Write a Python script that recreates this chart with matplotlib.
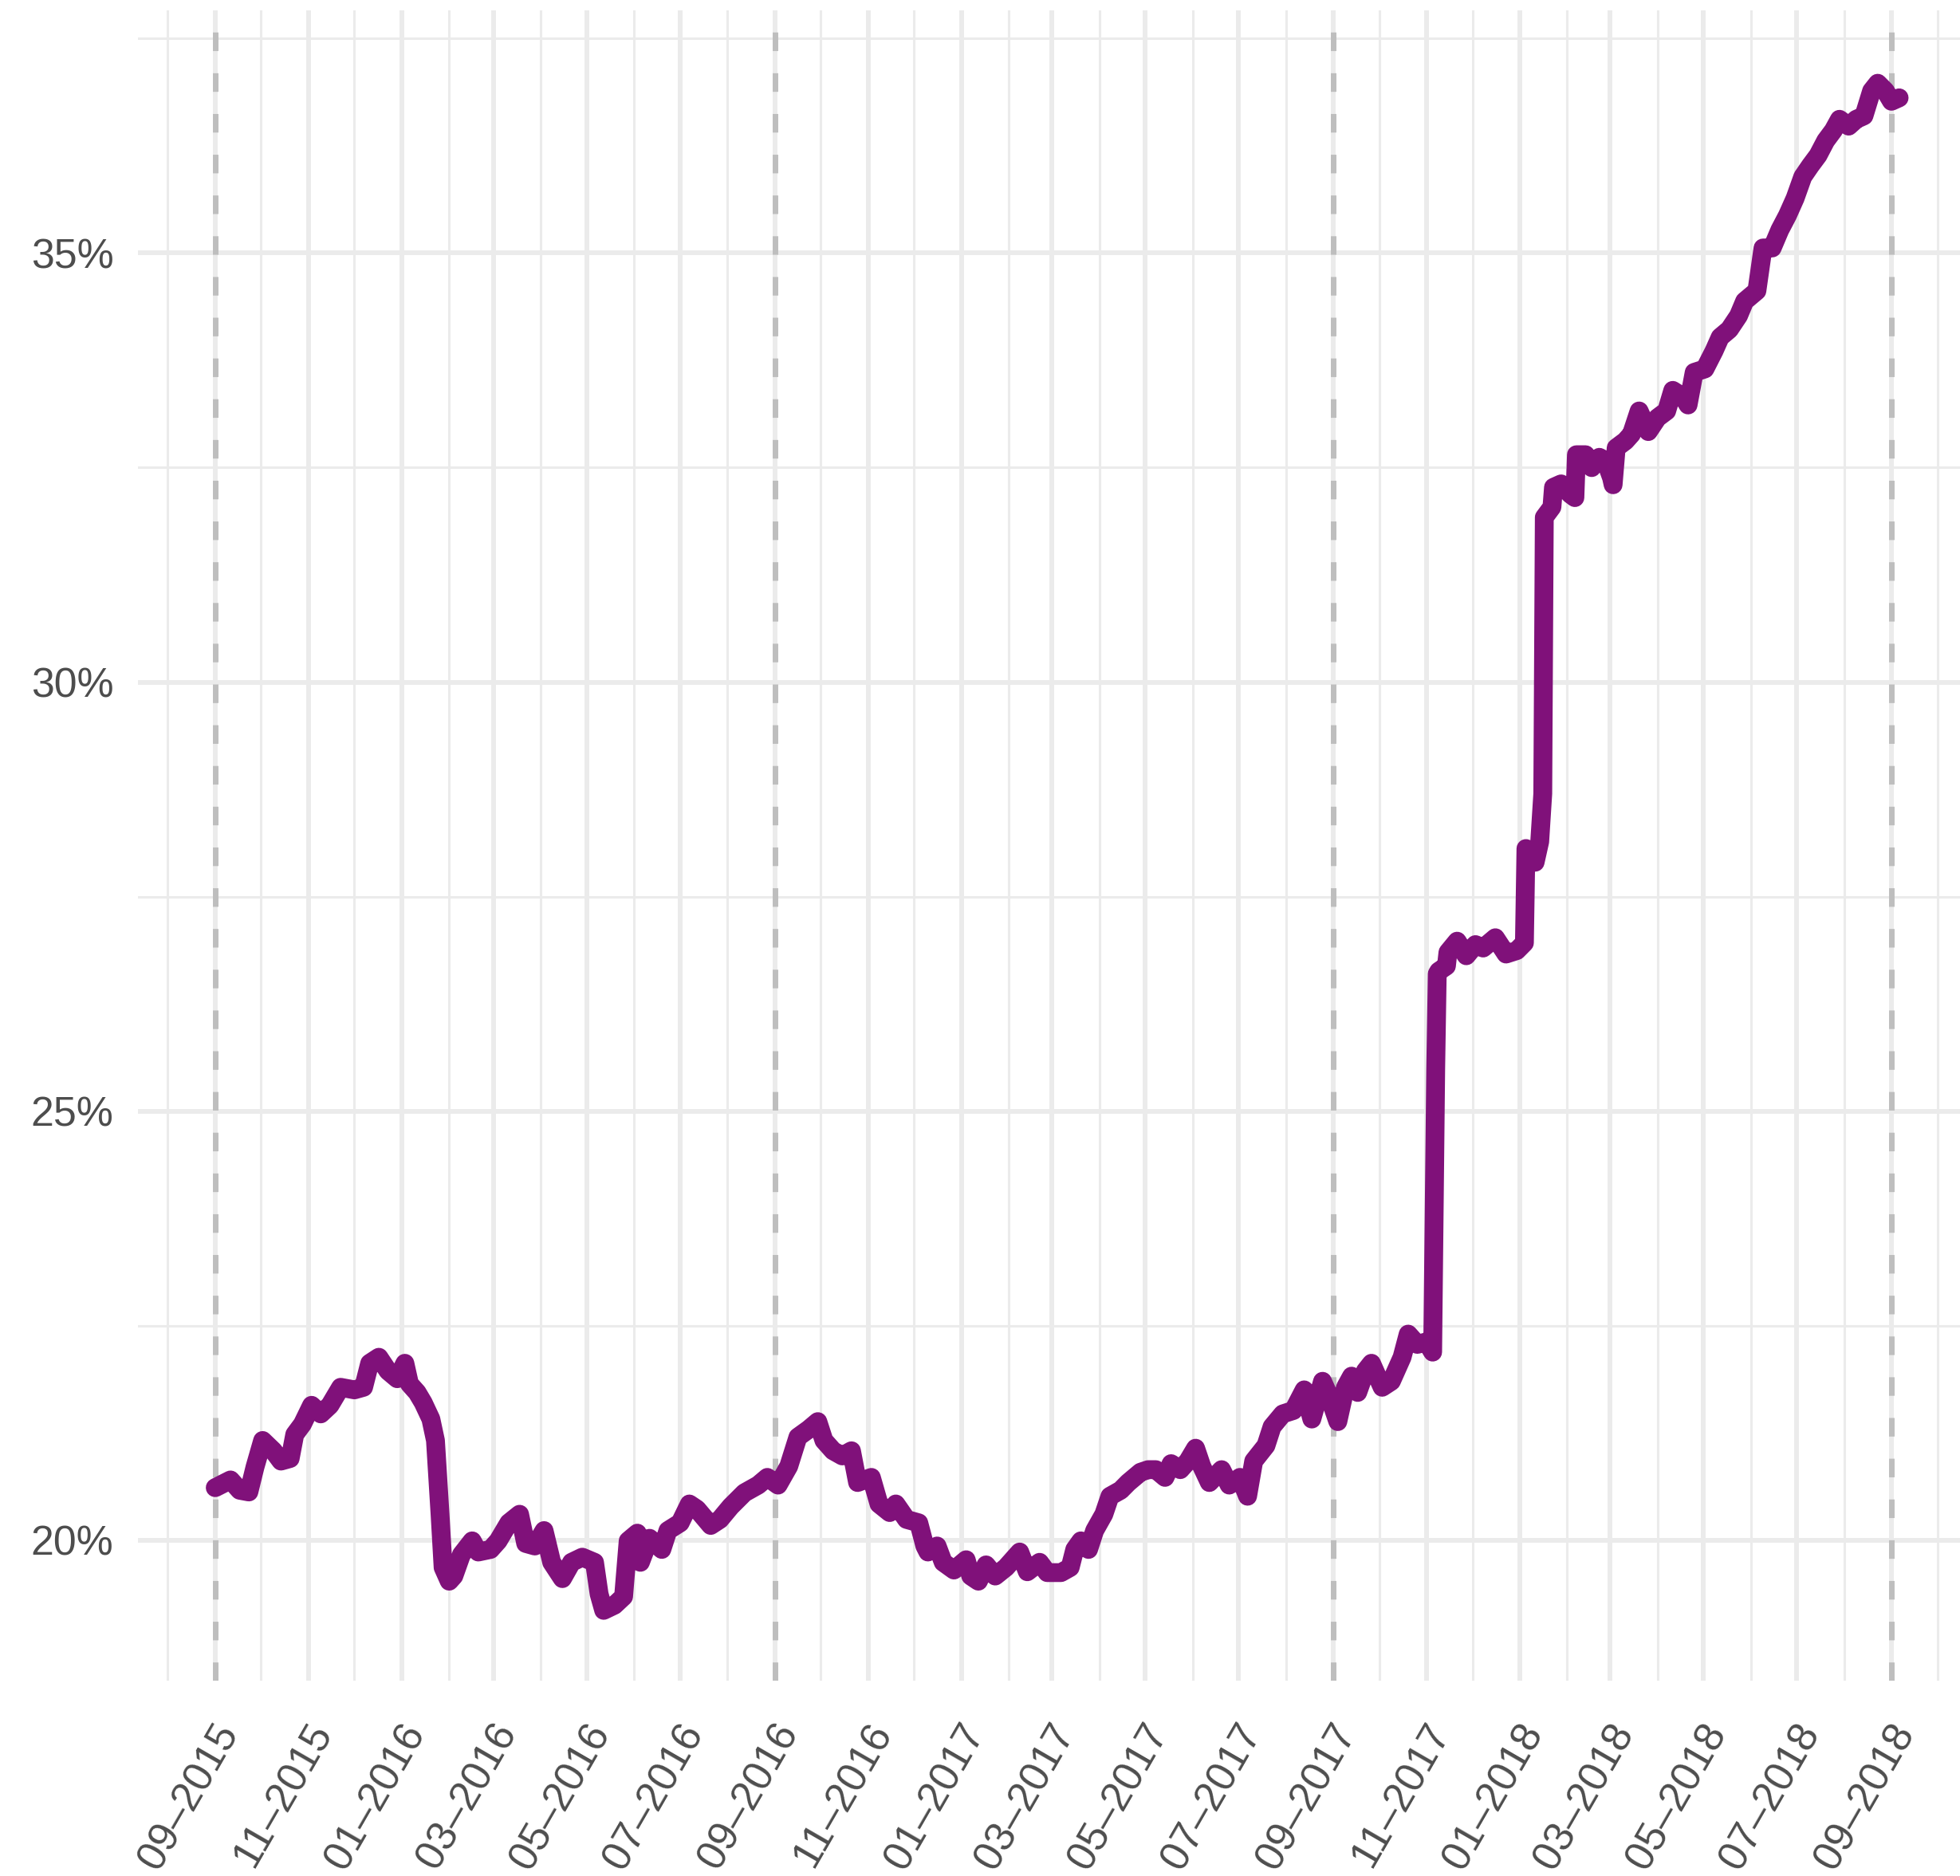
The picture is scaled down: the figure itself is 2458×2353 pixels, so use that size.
import matplotlib
matplotlib.use("Agg")
import matplotlib.pyplot as plt
import matplotlib.dates as mdates
from matplotlib.transforms import ScaledTranslation
import pandas as pd

# daily share series, read at the turning points
dates = [
    "2015-09-01", "2015-09-11", "2015-09-17", "2015-09-23", "2015-09-27",
    "2015-10-02", "2015-10-09", "2015-10-14", "2015-10-20", "2015-10-23",
    "2015-10-28", "2015-11-03", "2015-11-09", "2015-11-15", "2015-11-22",
    "2015-12-01", "2015-12-07", "2015-12-11", "2015-12-17", "2015-12-23",
    "2015-12-29", "2016-01-03", "2016-01-06", "2016-01-11", "2016-01-15",
    "2016-01-20", "2016-01-23", "2016-01-26", "2016-01-28", "2016-02-01",
    "2016-02-04", "2016-02-09", "2016-02-16", "2016-02-20", "2016-02-28",
    "2016-03-04", "2016-03-11", "2016-03-18", "2016-03-22", "2016-03-28",
    "2016-04-03", "2016-04-08", "2016-04-15", "2016-04-21", "2016-04-28",
    "2016-05-06", "2016-05-09", "2016-05-12", "2016-05-19", "2016-05-25",
    "2016-05-28", "2016-06-03", "2016-06-05", "2016-06-11", "2016-06-19",
    "2016-06-23", "2016-07-01", "2016-07-07", "2016-07-12", "2016-07-21",
    "2016-07-27", "2016-08-03", "2016-08-12", "2016-08-21", "2016-08-27",
    "2016-09-03", "2016-09-10", "2016-09-16", "2016-09-23", "2016-09-29",
    "2016-10-03", "2016-10-09", "2016-10-15", "2016-10-21", "2016-10-25",
    "2016-11-03", "2016-11-08", "2016-11-15", "2016-11-19", "2016-11-26",
    "2016-12-04", "2016-12-08", "2016-12-10", "2016-12-16", "2016-12-20",
    "2016-12-27", "2017-01-04", "2017-01-07", "2017-01-12", "2017-01-17",
    "2017-01-23", "2017-01-30", "2017-02-08", "2017-02-13", "2017-02-21",
    "2017-02-26", "2017-03-07", "2017-03-13", "2017-03-16", "2017-03-20",
    "2017-03-25", "2017-03-29", "2017-04-04", "2017-04-08", "2017-04-15",
    "2017-04-20", "2017-04-28", "2017-05-03", "2017-05-08", "2017-05-14",
    "2017-05-18", "2017-05-24", "2017-05-29", "2017-06-03", "2017-06-07",
    "2017-06-12", "2017-06-20", "2017-06-25", "2017-07-02", "2017-07-07",
    "2017-07-11", "2017-07-19", "2017-07-23", "2017-07-30", "2017-08-06",
    "2017-08-13", "2017-08-18", "2017-08-25", "2017-08-29", "2017-09-04",
    "2017-09-09", "2017-09-13", "2017-09-17", "2017-09-22", "2017-09-26",
    "2017-10-03", "2017-10-09", "2017-10-16", "2017-10-20", "2017-10-26",
    "2017-11-01", "2017-11-05", "2017-11-07", "2017-11-08", "2017-11-09",
    "2017-11-14", "2017-11-15", "2017-11-21", "2017-11-27", "2017-12-03",
    "2017-12-08", "2017-12-16", "2017-12-23", "2017-12-30", "2018-01-04",
    "2018-01-05", "2018-01-11", "2018-01-14", "2018-01-16", "2018-01-17",
    "2018-01-22", "2018-01-23", "2018-01-28", "2018-02-03", "2018-02-06",
    "2018-02-07", "2018-02-13", "2018-02-17", "2018-02-22", "2018-02-26",
    "2018-03-02", "2018-03-03", "2018-03-05", "2018-03-11", "2018-03-15",
    "2018-03-20", "2018-03-26", "2018-04-01", "2018-04-07", "2018-04-11",
    "2018-04-18", "2018-04-21", "2018-04-25", "2018-05-02", "2018-05-08",
    "2018-05-12", "2018-05-18", "2018-05-24", "2018-05-28", "2018-06-05",
    "2018-06-07", "2018-06-09", "2018-06-15", "2018-06-20", "2018-06-25",
    "2018-06-30", "2018-07-05", "2018-07-10", "2018-07-15", "2018-07-20",
    "2018-07-25", "2018-07-29", "2018-08-04", "2018-08-09", "2018-08-14",
    "2018-08-19", "2018-08-23", "2018-08-28", "2018-09-01", "2018-09-06",
]
share = [
    20.61, 20.70, 20.58, 20.56, 20.85,
    21.16, 21.04, 20.92, 20.95, 21.23,
    21.35, 21.57, 21.47, 21.57, 21.78,
    21.75, 21.78, 22.06, 22.13, 21.97,
    21.88, 22.06, 21.82, 21.72, 21.60,
    21.41, 21.16, 20.30, 19.68, 19.52,
    19.58, 19.83, 19.99, 19.86, 19.89,
    19.99, 20.20, 20.30, 19.96, 19.93,
    20.11, 19.74, 19.55, 19.74, 19.80,
    19.74, 19.37, 19.18, 19.24, 19.34,
    19.99, 20.08, 19.74, 20.02, 19.89,
    20.11, 20.20, 20.42, 20.36, 20.17,
    20.24, 20.39, 20.55, 20.64, 20.73,
    20.64, 20.86, 21.20, 21.29, 21.38,
    21.16, 21.04, 20.98, 21.04, 20.67,
    20.73, 20.42, 20.32, 20.42, 20.24,
    20.20, 19.93, 19.86, 19.93, 19.74,
    19.65, 19.77, 19.58, 19.52, 19.71,
    19.58, 19.68, 19.86, 19.63, 19.74,
    19.62, 19.62, 19.68, 19.89, 19.99,
    19.89, 20.11, 20.30, 20.51, 20.58,
    20.67, 20.79, 20.82, 20.82, 20.73,
    20.89, 20.82, 20.92, 21.07, 20.86,
    20.67, 20.82, 20.64, 20.73, 20.51,
    20.92, 21.10, 21.32, 21.47, 21.51,
    21.75, 21.41, 21.85, 21.69, 21.38,
    21.78, 21.91, 21.72, 21.97, 22.06,
    21.78, 21.85, 22.13, 22.40, 22.28,
    22.31, 22.19, 25.50, 26.60, 26.63,
    26.69, 26.85, 26.98, 26.81, 26.94,
    26.90, 27.02, 26.83, 26.87, 26.96,
    28.06, 27.90, 28.14, 28.70, 31.92,
    32.04, 32.27, 32.31, 32.19, 32.15,
    32.65, 32.65, 32.50, 32.62, 32.58,
    32.38, 32.30, 32.73, 32.81, 32.89,
    33.16, 32.92, 33.08, 33.16, 33.40,
    33.32, 33.23, 33.61, 33.65, 33.86,
    34.02, 34.11, 34.27, 34.44, 34.56,
    34.81, 35.06, 35.06, 35.27, 35.44,
    35.64, 35.89, 36.02, 36.14, 36.31,
    36.43, 36.56, 36.48, 36.56, 36.60,
    36.89, 36.98, 36.89, 36.77, 36.81,
]
year_marks = ["2015-09-01", "2016-09-01", "2017-09-01", "2018-09-01"]
y_major = [20, 25, 30, 35]
y_minor = [22.5, 27.5, 32.5, 37.5]

plt.rcParams["font.family"] = ["Liberation Sans", "DejaVu Sans"]
plt.rcParams["lines.scale_dashes"] = False

fig = plt.figure(figsize=(24.58, 23.53), dpi=100)
ax = fig.add_axes([0.0704, 0.1041, 0.9296, 0.8904])

x = pd.to_datetime(dates)
grid_col = "#EBEBEB"
text_col = "#4D4D4D"

for d in year_marks:
    ax.axvline(pd.Timestamp(d), color="#BEBEBE", lw=5, linestyle=(0, (16.8, 20.0)),
               zorder=2)

ax.plot(x, share, color="#80117A", lw=17, solid_capstyle="round",
        solid_joinstyle="round", zorder=3)

t0 = mdates.date2num(pd.Timestamp("2015-09-01"))
t1 = mdates.date2num(pd.Timestamp("2018-09-01"))
ax.set_xlim(t0 - 50.5, t1 + 44.8)
ax.set_ylim(18.36, 37.83)

ax.xaxis.set_major_locator(mdates.MonthLocator(bymonth=[1, 3, 5, 7, 9, 11]))
ax.xaxis.set_minor_locator(mdates.MonthLocator(bymonth=[2, 4, 6, 8, 10, 12]))
ax.xaxis.set_major_formatter(mdates.DateFormatter("%m\u2013%Y"))
ax.set_yticks(y_major)
ax.set_yticks(y_minor, minor=True)
ax.set_yticklabels([f"{v}%" for v in y_major])

ax.grid(which="major", color=grid_col, lw=4.3)
ax.grid(which="minor", color=grid_col, lw=2.2)
ax.set_axisbelow(True)
for s in ax.spines.values():
    s.set_visible(False)

ax.tick_params(which="both", length=0, labelsize=37.4, labelcolor=text_col)
ax.tick_params(axis="y", pad=22)
ax.tick_params(axis="x", pad=32.7)

shift = ScaledTranslation(-3 / 100, 0, fig.dpi_scale_trans)
for lab in ax.get_xticklabels():
    lab.set_rotation(60)
    lab.set_ha("right")
    lab.set_va("top")
    lab.set_rotation_mode("anchor")
    lab.set_transform(lab.get_transform() + shift)

fig.savefig("out.png", dpi=100)
